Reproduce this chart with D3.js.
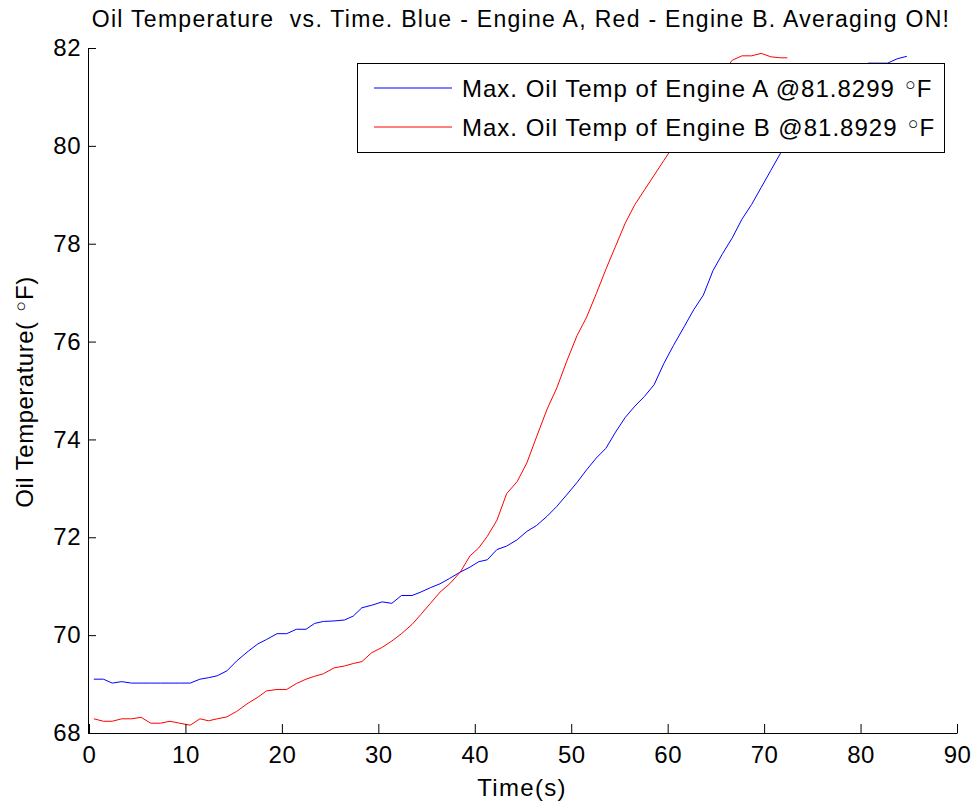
<!DOCTYPE html>
<html>
<head>
<meta charset="utf-8">
<script src="https://cdn.jsdelivr.net/npm/d3@7"></script>
<style>
  body { margin: 0; background: #fff; }
  text { font-family: "Liberation Sans", Arial, sans-serif; }
</style>
</head>
<body>
<div id="chart"></div>
<script>
// Time stamps (s)
const timeA = [0.5, 1.5, 2.4, 3.4, 4.4, 5.4, 6.4, 7.4, 8.4, 9.4, 10.5, 11.5, 12.4, 13.3, 14.3, 15.3, 16.5, 17.5, 18.4, 19.5,
  20.5, 21.5, 22.5, 23.4, 24.3, 25.4, 26.5, 27.4, 28.3, 29.3, 30.4, 31.4, 32.4, 33.5, 34.4, 35.4, 36.4, 37.4, 38.5, 39.5,
  40.4, 41.3, 42.3, 43.3, 44.4, 45.4, 46.4, 47.5, 48.5, 49.5, 50.6, 51.6, 52.6, 53.6, 54.6, 55.6, 56.6, 57.6, 58.6, 59.6,
  60.6, 61.7, 62.7, 63.7, 64.7, 65.7, 66.7, 67.7, 68.7, 69.7, 70.7, 71.7, 72.7, 73.7, 74.7, 75.7, 76.7, 77.7, 78.7, 79.7,
  80.8, 81.8, 82.8, 83.8, 84.8];
const timeB = timeA.slice(0, 72).concat([72.4]);

// Engine A (blue) oil temperature, °F
const engineA = [69.10, 69.10, 69.02, 69.05, 69.02, 69.02, 69.02, 69.02, 69.02, 69.02, 69.02, 69.10, 69.13, 69.17, 69.27, 69.47, 69.67, 69.82, 69.91, 70.03,
  70.03, 70.12, 70.12, 70.24, 70.28, 70.29, 70.31, 70.39, 70.56, 70.61, 70.68, 70.65, 70.81, 70.81, 70.88, 70.97, 71.05, 71.16, 71.29, 71.39,
  71.50, 71.54, 71.75, 71.82, 71.95, 72.12, 72.24, 72.43, 72.63, 72.86, 73.12, 73.38, 73.62, 73.82, 74.15, 74.45, 74.68, 74.88, 75.12, 75.55,
  75.92, 76.30, 76.65, 76.95, 77.45, 77.80, 78.12, 78.50, 78.80, 79.15, 79.50, 79.85, 80.15, 80.45, 80.72, 80.95, 81.15, 81.32, 81.47, 81.58,
  81.69, 81.69, 81.69, 81.78, 81.83];

// Engine B (red) oil temperature, °F
const engineB = [68.29, 68.24, 68.24, 68.29, 68.29, 68.32, 68.20, 68.20, 68.24, 68.20, 68.16, 68.29, 68.25, 68.29, 68.33, 68.44, 68.61, 68.73, 68.86, 68.89,
  68.89, 69.01, 69.10, 69.16, 69.21, 69.33, 69.37, 69.42, 69.46, 69.64, 69.75, 69.88, 70.03, 70.22, 70.42, 70.65, 70.88, 71.05, 71.29, 71.62,
  71.78, 72.02, 72.35, 72.89, 73.14, 73.52, 74.05, 74.62, 75.05, 75.58, 76.12, 76.50, 76.98, 77.48, 77.95, 78.42, 78.80, 79.10, 79.40, 79.70,
  80.00, 80.30, 80.62, 80.95, 81.25, 81.50, 81.75, 81.84, 81.84, 81.89, 81.82, 81.80, 81.80];

const xTicks = [0, 10, 20, 30, 40, 50, 60, 70, 80, 90];
const yTicks = [68, 70, 72, 74, 76, 78, 80, 82];
const legendLabels = ["Max. Oil Temp of Engine A @81.8299 ", "Max. Oil Temp of Engine B @81.8929 "];
const colors = ["#0000ff", "#ff0000"];

const width = 977;
const height = 808;
const margin = { top: 48, right: 20, bottom: 75, left: 88 };

const svg = d3.select("#chart")
  .append("svg")
  .attr("width", width)
  .attr("height", height);

const x = d3.scaleLinear().domain([0, 90]).range([89, 957]);
const y = d3.scaleLinear().domain([68, 82]).range([height - margin.bottom, margin.top]);

// Lines
const line = d3.line().x(d => x(d[0])).y(d => y(d[1]));
const series = [d3.zip(timeA, engineA), d3.zip(timeB, engineB)];

svg.append("g")
  .selectAll("path")
  .data(series)
  .join("path")
  .attr("d", line)
  .attr("fill", "none")
  .attr("stroke", (d, i) => colors[i])
  .attr("stroke-width", 1);

// Axes, ticks pointing inward
svg.append("g")
  .attr("transform", `translate(0, ${y(68)})`)
  .call(d3.axisBottom(x).tickValues(xTicks).tickSizeInner(-9).tickSizeOuter(0).tickPadding(13));

svg.append("g")
  .attr("transform", `translate(${margin.left}, 0)`)
  .call(d3.axisLeft(y).tickValues(yTicks).tickSizeInner(-8).tickSizeOuter(0).tickPadding(7));

svg.selectAll(".domain, .tick line").attr("stroke", "#000");
svg.selectAll(".tick text")
  .attr("fill", "#000")
  .style("font-size", "24px")
  .style("letter-spacing", "0.5px")
  .style("font-family", "'Liberation Sans', Arial, sans-serif");

// small raised circle used for the degree sign
function addDegree(sel, rest) {
  sel.append("tspan")
    .style("font-family", "'DejaVu Sans', sans-serif")
    .style("font-size", "26px")
    .style("letter-spacing", "0px")
    .attr("dy", -2)
    .text("\u25E6");
  sel.append("tspan").attr("dy", 2).attr("dx", -1).text(rest);
}

// Legend
const legend = svg.append("g");
legend.append("rect")
  .attr("x", 357.5)
  .attr("y", 63.5)
  .attr("width", 587)
  .attr("height", 89)
  .attr("fill", "#fff")
  .attr("stroke", "#000");

legendLabels.forEach((label, i) => {
  const ly = 88 + i * 39;
  legend.append("line")
    .attr("x1", 374).attr("x2", 452)
    .attr("y1", ly).attr("y2", ly)
    .attr("stroke", colors[i]);
  const t = legend.append("text")
    .attr("x", 462)
    .attr("y", ly + 9)
    .style("font-size", "24px")
    .style("letter-spacing", "1px")
    .style("white-space", "pre");
  t.append("tspan").text(label);
  addDegree(t, "F");
});

// Title and axis labels
svg.append("text")
  .attr("x", 521)
  .attr("y", 27)
  .attr("text-anchor", "middle")
  .style("font-size", "23px")
  .style("letter-spacing", "1.3px")
  .style("white-space", "pre")
  .text("Oil Temperature  vs. Time. Blue - Engine A, Red - Engine B. Averaging ON!");

svg.append("text")
  .attr("x", 522)
  .attr("y", 796)
  .attr("text-anchor", "middle")
  .style("font-size", "24px")
  .style("letter-spacing", "1.3px")
  .text("Time(s)");

const yl = svg.append("text")
  .attr("transform", "translate(33, 392) rotate(-90)")
  .attr("text-anchor", "middle")
  .style("font-size", "24px")
  .style("letter-spacing", "0.5px")
  .style("white-space", "pre");
yl.append("tspan").text("Oil Temperature( ");
addDegree(yl, "F)");
</script>
</body>
</html>
